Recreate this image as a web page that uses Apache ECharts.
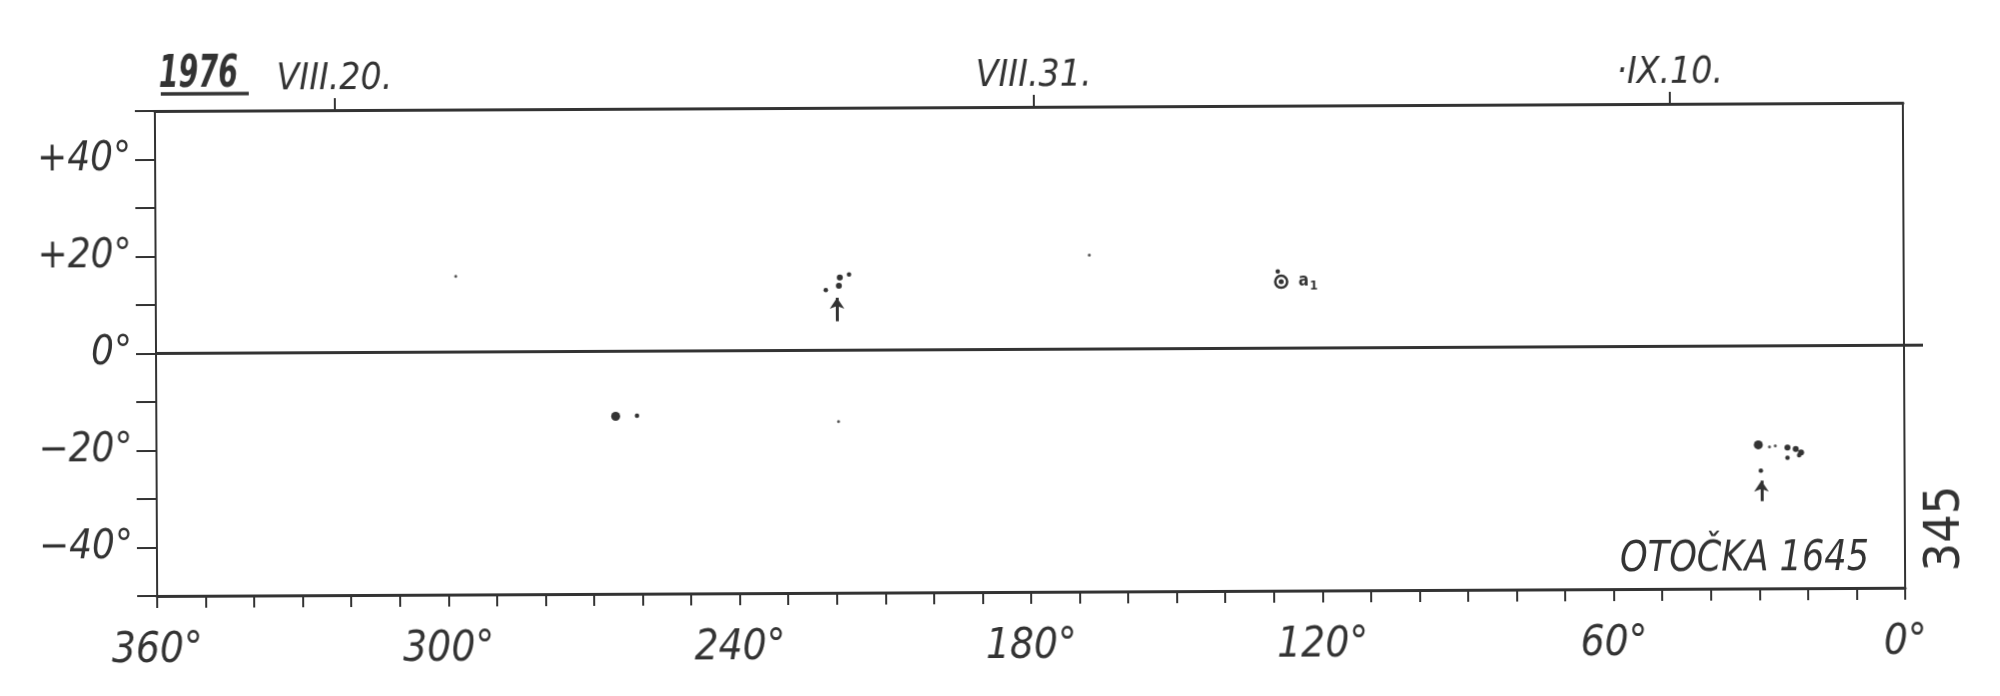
<!DOCTYPE html>
<html><head><meta charset="utf-8">
<script src="https://cdn.jsdelivr.net/npm/echarts@6/dist/echarts.min.js"></script>
<style>
html,body{margin:0;padding:0;background:#fff;overflow:hidden}
#c{width:2000px;height:696px;transform:rotate(-0.27deg);transform-origin:1000px 348px;background:#fff}
</style>
</head><body><div id="c"></div>
<script>
// ---- data ----
const lonLabelValues = [360, 300, 240, 180, 120, 60, 0];
const latLabelValues = [40, 20, 0, -20, -40];
const dateLon = [323, 179, 48];
const dateLabels = ['VIII.20.', 'VIII.31.', '·IX.10.'];

const spotLon = [298.2, 265.4, 261.0, 219.5, 222.0, 219.3, 219.1, 217.2, 167.7, 128.9,
                 30.1, 27.8, 26.6, 24.1, 22.4, 21.3, 24.1, 21.7, 29.6];
const spotLat = [15.6, -13.4, -13.3, -14.7, 12.4, 13.3, 15.0, 15.6, 19.4, 15.8,
                 -20.4, -20.8, -20.6, -21.0, -21.3, -22.0, -23.1, -22.6, -25.7];
const spotMag = [1, 4, 2, 1, 2, 3, 3, 2, 1, 2,
                 4, 1, 1, 3, 3, 3, 2, 2, 2];

const penumbraLon = [128.2];
const penumbraLat = [13.7];
const penumbraName = ['1'];

const arrowLon = [219.7, 29.5];
const arrowFromLat = [6.0, -32.0];
const arrowToLat = [10.8, -27.8];

// ---- styling ----
const INK = '#333';
const FONT = "'DejaVu Sans Condensed','Liberation Sans Narrow','DejaVu Sans',sans-serif";
const magPx = [0, 3, 4.5, 6, 9];

const chart = echarts.init(document.getElementById('c'), null, {renderer: 'canvas'});

const lblStyle = {color: INK, fontFamily: FONT, fontStyle: 'italic', fontSize: 42};

chart.setOption({
  animation: false,
  backgroundColor: '#fff',
  grid: {left: 156, right: 96, top: 107, bottom: 104, containLabel: false},
  xAxis: [
    {
      type: 'value', position: 'bottom', min: 0, max: 360, interval: 10, inverse: true,
      axisLine: {show: true, onZero: false, lineStyle: {color: INK, width: 3}},
      axisTick: {show: true, length: 12, lineStyle: {color: INK, width: 2}},
      axisLabel: Object.assign({
        margin: 34,
        formatter: v => lonLabelValues.indexOf(v) >= 0 ? v + '°' : ''
      }, lblStyle),
      splitLine: {show: false}
    },
    {
      type: 'value', position: 'top', min: 0, max: 360, inverse: true,
      axisLine: {show: true, onZero: false, lineStyle: {color: INK, width: 3}},
      axisTick: {show: true, length: 12, customValues: dateLon, lineStyle: {color: INK, width: 2}},
      axisLabel: Object.assign({
        margin: 12, customValues: dateLon,
        formatter: v => { const i = dateLon.indexOf(v); return i >= 0 ? dateLabels[i] : ''; }
      }, lblStyle, {fontSize: 37}),
      splitLine: {show: false}
    }
  ],
  yAxis: [
    {
      type: 'value', position: 'left', min: -50, max: 50, interval: 10,
      axisLine: {show: true, onZero: false, lineStyle: {color: INK, width: 2}},
      axisTick: {show: true, length: 20, lineStyle: {color: INK, width: 2}},
      axisLabel: Object.assign({
        margin: 24,
        formatter: v => latLabelValues.indexOf(v) < 0 ? '' : (v > 0 ? '+' + v + '°' : (v < 0 ? '−' + Math.abs(v) + '°' : '0°'))
      }, lblStyle, {fontSize: 40}),
      splitLine: {show: false}
    },
    {
      type: 'value', position: 'right', min: -50, max: 50,
      axisLine: {show: true, onZero: false, lineStyle: {color: INK, width: 2}},
      axisTick: {show: true, length: 19, customValues: [0], lineStyle: {color: INK, width: 3}},
      axisLabel: {show: false},
      splitLine: {show: false}
    }
  ],
  series: [
    {
      type: 'scatter', xAxisIndex: 0, yAxisIndex: 0, silent: true,
      data: spotLon.map((l, i) => [l, spotLat[i], spotMag[i]]),
      symbol: 'circle',
      symbolSize: v => magPx[v[2]],
      itemStyle: {color: p => p.value[2] === 1 ? '#555' : INK, opacity: 1},
      markLine: {
        silent: true, symbol: ['none', 'none'], animation: false,
        label: {show: false},
        lineStyle: {color: INK, width: 3, type: 'solid'},
        data: [{yAxis: 0}]
      },
      z: 5
    },
    {
      type: 'scatter', xAxisIndex: 0, yAxisIndex: 0, silent: true,
      data: penumbraLon.map((l, i) => ({value: [l, penumbraLat[i]], name: penumbraName[i]})),
      symbol: 'circle', symbolSize: 12,
      itemStyle: {color: '#fff', borderColor: INK, borderWidth: 2.5, opacity: 1},
      label: {
        show: true, position: 'right', distance: 10,
        formatter: p => '{a|a}{s|' + p.name + '}',
        rich: {
          a: {fontSize: 17, fontWeight: 'bold', color: INK, fontFamily: FONT},
          s: {fontSize: 13, fontWeight: 'bold', color: INK, fontFamily: FONT, padding: [9, 0, 0, 1]}
        }
      },
      z: 6
    },
    {
      type: 'scatter', xAxisIndex: 0, yAxisIndex: 0, silent: true,
      data: penumbraLon.map((l, i) => [l, penumbraLat[i]]),
      symbol: 'circle', symbolSize: 5,
      itemStyle: {color: INK, opacity: 1},
      z: 7
    },
    {
      type: 'lines', coordinateSystem: 'cartesian2d', xAxisIndex: 0, yAxisIndex: 0, silent: true,
      data: arrowLon.map((l, i) => ({coords: [[l, arrowFromLat[i]], [l, arrowToLat[i]]]})),
      symbol: ['none', 'arrow'], symbolSize: 11,
      lineStyle: {color: INK, width: 3, opacity: 1, curveness: 0},
      z: 6
    }
  ],
  graphic: [
    {type: 'text', x: 160, y: 50, scaleX: 0.72, style: {text: '1976', fill: INK, fontFamily: FONT, fontSize: 44, fontStyle: 'italic', fontWeight: 'bold'}},
    {type: 'line', shape: {x1: 162, y1: 90, x2: 250, y2: 90}, style: {stroke: INK, lineWidth: 3.5}},
    {type: 'text', x: 1868, y: 584, scaleX: 0.93, style: {text: 'OTOČKA 1645', fill: INK, fontFamily: FONT, fontSize: 42, fontStyle: 'italic', align: 'right', verticalAlign: 'bottom'}},
    {type: 'text', x: 1945, y: 533, rotation: Math.PI / 2, style: {text: '345', fill: INK, fontFamily: FONT, fontSize: 50, align: 'center', verticalAlign: 'middle'}}
  ]
});
</script></body></html>
